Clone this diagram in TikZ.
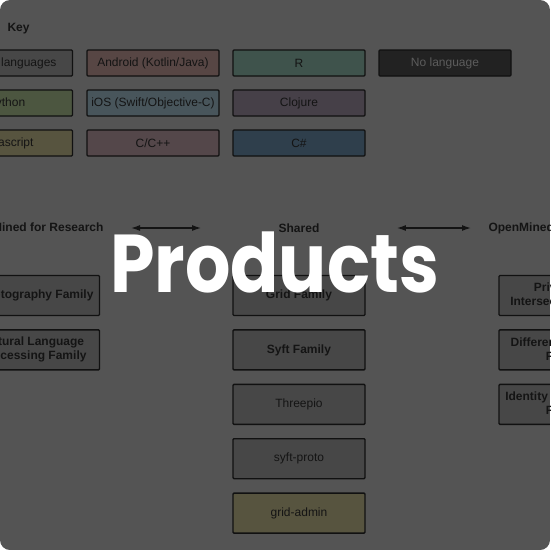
\documentclass[tikz,border=0pt]{standalone}
\usepackage{fontspec}
\setmainfont{Liberation Sans}
\newfontfamily\titlefont{Poppins}
\usetikzlibrary{arrows.meta,positioning}

% colours, as seen under the dark overlay
\definecolor{bgdim}{HTML}{545454}
\definecolor{boxline}{HTML}{111111}
\definecolor{txtdim}{HTML}{141414}
\definecolor{plain}{HTML}{474747}
\definecolor{nolang}{HTML}{222222}
\definecolor{nolangtxt}{HTML}{5C5C5C}
\definecolor{android}{HTML}{574644}
\definecolor{ios}{HTML}{48555B}
\definecolor{ccpp}{HTML}{54474A}
\definecolor{rlang}{HTML}{3F534C}
\definecolor{clojure}{HTML}{464048}
\definecolor{csharp}{HTML}{2F3F4C}
\definecolor{python}{HTML}{4C5640}
\definecolor{jscript}{HTML}{57543F}

\tikzset{
  langbox/.style={draw=boxline, line width=1.4pt, rounded corners=1pt,
    minimum width=132pt, minimum height=26pt, inner sep=0pt,
    text=txtdim, font=\fontsize{12}{14}\selectfont},
  prodbox/.style={langbox, fill=plain, minimum height=40pt, align=center},
  famtext/.style={font=\fontsize{12}{14}\selectfont\bfseries},
  header/.style={text=txtdim, font=\fontsize{12}{14}\selectfont\bfseries},
  linkarrow/.style={<->, line width=1.3pt, draw=txtdim},
}

\begin{document}
\begin{tikzpicture}[x=1pt,y=-1pt,>={Latex[length=9pt,width=6pt]}]
  \fill[white] (0,0) rectangle (550,550);
  \useasboundingbox (0,0) rectangle (550,550);

  \begin{scope}
    \clip[rounded corners=10pt] (0,0) rectangle (550,550);
    \fill[bgdim] (0,0) rectangle (550,550);

    % key
    \node[header, anchor=west] (key) at (4,29) {Key};

    \node[langbox, fill=plain]   (multi)   at (6.5,63)  {Multiple languages};
    \node[langbox, fill=python]  (python)  at (6.5,103) {Python};
    \node[langbox, fill=jscript] (jscript) at (6.5,143) {Javascript};

    \node[langbox, fill=android] (android) at (153,63)  {Android (Kotlin/Java)};
    \node[langbox, fill=ios]     (ios)     at (153,103) {iOS (Swift/Objective-C)};
    \node[langbox, fill=ccpp]    (ccpp)    at (153,143) {C/C++};

    \node[langbox, fill=rlang]   (rlang)   at (299,63)  {R};
    \node[langbox, fill=clojure] (clojure) at (299,103) {Clojure};
    \node[langbox, fill=csharp]  (csharp)  at (299,143) {C\#};

    \node[langbox, fill=nolang, text=nolangtxt] (nolang) at (445,63) {No language};

    % headers
    \node[header] (hresearch) at (32.5,228) {OpenMined for Research};
    \node[header] (hshared)   at (299,228)  {Shared};
    \node[header, anchor=west] (hother) at (485,228) {OpenMined for Enterprise};

    \draw[linkarrow] ([xshift=24pt]hresearch.east) -- ([xshift=-74pt]hshared.west);
    \draw[linkarrow] ([xshift=74pt]hshared.east) -- ([xshift=-14pt]hother.west);

    % research products
    \node[prodbox, famtext] (crypto) at (33.5,295.5) {Cryptography Family};
    \node[prodbox, famtext, below=13pt of crypto] (nlp) {Natural Language\\Processing Family};

    % shared products
    \node[prodbox, famtext] (grid) at (299,295.5) {Grid Family};
    \node[prodbox, famtext, below=13pt of grid] (syft) {Syft Family};
    \node[prodbox, below=13pt of syft]  (threepio) {Threepio};
    \node[prodbox, below=13pt of threepio] (proto) {syft-proto};
    \node[prodbox, fill=jscript, below=13pt of proto] (gridadmin) {grid-admin};

    % other products
    \node[prodbox, famtext] (psi) at (565,295.5) {Private Set\\Intersection Family};
    \node[prodbox, famtext, below=13pt of psi] (dp) {Differential Privacy\\Family};
    \node[prodbox, famtext, below=13pt of dp] (ident) {Identity Management\\Family};

    % title over it all
    \node[anchor=base, text=white, inner sep=0pt,
      font=\titlefont\bfseries\fontsize{82}{90}\selectfont] (title) at (274.5,292)
      {\scalebox{0.87}[1]{Products}};
  \end{scope}
\end{tikzpicture}
\end{document}
